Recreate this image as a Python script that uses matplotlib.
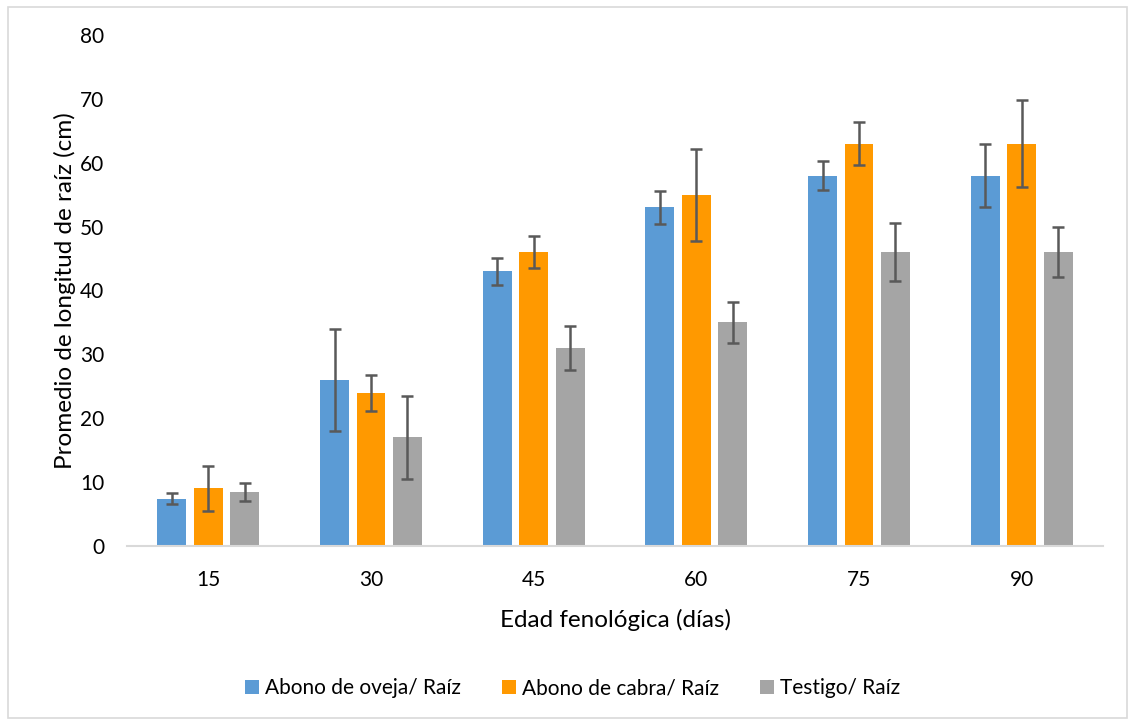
import numpy as np
import matplotlib

matplotlib.use("Agg")
import matplotlib.pyplot as plt
from matplotlib.patches import Rectangle

# data
dias = ["15", "30", "45", "60", "75", "90"]
oveja = [7.4, 26, 43, 53, 58, 58]
oveja_err = [0.9, 8.0, 2.1, 2.6, 2.3, 5.0]
cabra = [9, 24, 46, 55, 63, 63]
cabra_err = [3.5, 2.8, 2.5, 7.2, 3.4, 6.8]
testigo = [8.4, 17, 31, 35, 46, 46]
testigo_err = [1.4, 6.5, 3.4, 3.2, 4.5, 3.9]

series = [
    ("Abono de oveja/ Raíz", oveja, oveja_err, "#5B9BD5"),
    ("Abono de cabra/ Raíz", cabra, cabra_err, "#FF9900"),
    ("Testigo/ Raíz", testigo, testigo_err, "#A5A5A5"),
]

plt.rcParams.update(
    {
        "font.family": ["Lato", "DejaVu Sans"],
        "font.size": 15,
        "text.color": "#000000",
    }
)

fig = plt.figure(figsize=(11.3, 7.22), dpi=100)
ax = fig.add_axes([0.1124, 0.2438, 0.8637, 0.7077])

# outer chart frame
fig.patches.append(
    Rectangle((0.007, 0.006), 0.99, 0.984, transform=fig.transFigure,
              fill=False, edgecolor="#D9D9D9", linewidth=1.2)
)

x = np.arange(len(dias))
width = 0.178
step = 0.224
for i, (label, vals, errs, color) in enumerate(series):
    ax.bar(
        x + (i - 1) * step, vals, width, color=color, label=label,
        yerr=errs, error_kw=dict(ecolor="#595959", elinewidth=1.8, capsize=4.3, capthick=1.8),
        zorder=2,
    )

ax.set_xlim(-0.5, 5.5)
ax.set_ylim(0, 80)
ax.set_yticks(range(0, 81, 10))
ax.set_xticks(x)
ax.set_xticklabels(dias)

for side in ["top", "right", "left"]:
    ax.spines[side].set_visible(False)
ax.spines["bottom"].set_color("#D9D9D9")
ax.spines["bottom"].set_linewidth(1.5)
ax.tick_params(axis="both", length=0, labelsize=15, colors="#000000")
ax.tick_params(axis="y", pad=16.5)
ax.tick_params(axis="x", pad=17)

ax.set_xlabel("Edad fenológica (días)", fontsize=17.5, labelpad=14)
ax.set_ylabel("Promedio de longitud de raíz (cm)", fontsize=17.5, labelpad=3)

fig.legend(
    loc="center", bbox_to_anchor=(0.507, 0.047), ncol=3, frameon=False,
    fontsize=15, handlelength=0.67, handleheight=0.67, handletextpad=0.29,
    columnspacing=1.97,
)

fig.savefig("out.png", dpi=100)
